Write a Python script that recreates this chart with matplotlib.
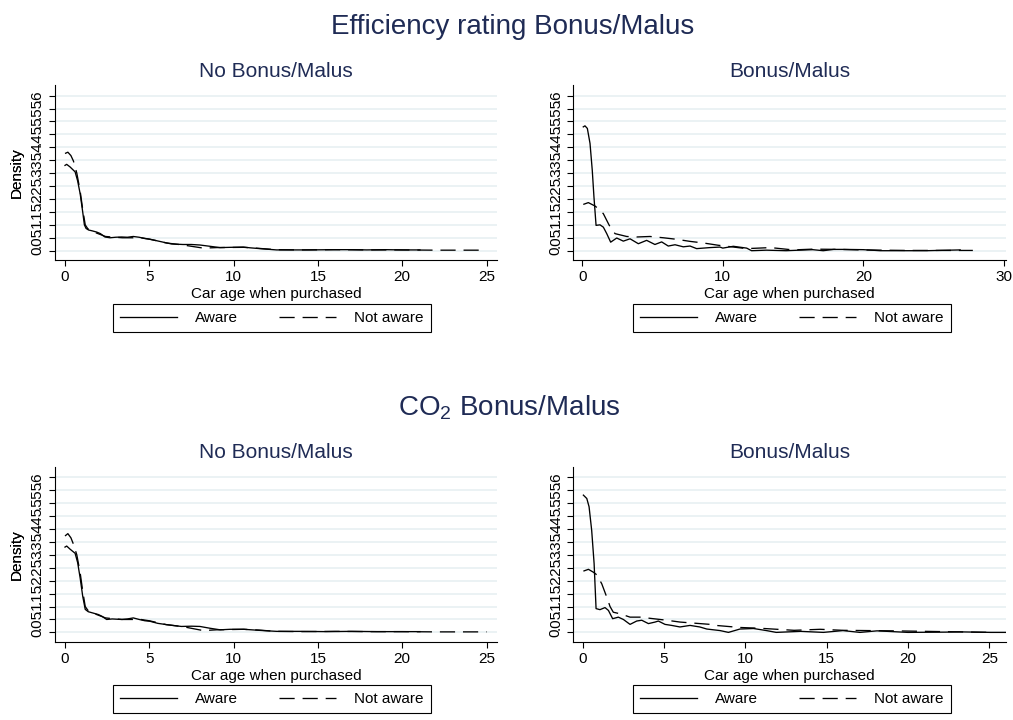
import matplotlib
matplotlib.use("Agg")
import matplotlib.pyplot as plt

plt.rcParams['font.family'] = ['Liberation Sans', 'DejaVu Sans']
plt.rcParams['mathtext.default'] = 'regular'

# ---------------- data ----------------
row_titles = ["Efficiency rating Bonus/Malus", "CO$_2$ Bonus/Malus"]
col_titles = ["No Bonus/Malus", "Bonus/Malus"]
series_names = ["Aware", "Not aware"]
x_label = "Car age when purchased"
y_label = "Density"

y_ticks = [0, .05, .1, .15, .2, .25, .3, .35, .4, .45, .5, .55, .6]
y_tick_labels = ["0", ".05", ".1", ".15", ".2", ".25", ".3", ".35", ".4", ".45", ".5", ".55", ".6"]

tl_xticks = [0, 5, 10, 15, 20, 25]
tr_xticks = [0, 10, 20, 30]
bl_xticks = [0, 5, 10, 15, 20, 25]
br_xticks = [0, 5, 10, 15, 20, 25]

# Top-left: Efficiency rating, No Bonus/Malus
tl_aware_x = [0.0, 0.1, 0.3, 0.6, 0.75, 0.9, 1.05, 1.15, 1.25, 1.4, 1.6, 1.88, 2.1, 2.37, 2.67, 3.0,
              3.36, 3.7, 4.05, 4.4, 4.74, 5.04, 5.34, 6.03, 6.33, 7.0, 7.5, 8.0, 8.6, 9.19, 9.8,
              10.57, 11.0, 11.56, 12.55, 13.5, 14.5, 15.9, 17.0, 17.9, 19.0, 20.0, 21.05]
tl_aware_y = [0.330, 0.334, 0.324, 0.305, 0.27, 0.22, 0.15, 0.10, 0.086, 0.080, 0.077, 0.072, 0.066,
              0.053, 0.050, 0.052, 0.053, 0.052, 0.055, 0.052, 0.047, 0.044, 0.040, 0.030, 0.026,
              0.024, 0.024, 0.022, 0.017, 0.012, 0.013, 0.014, 0.011, 0.008, 0.003, 0.003, 0.003,
              0.004, 0.004, 0.003, 0.004, 0.003, 0.003]
tl_not_x = [0.0, 0.17, 0.35, 0.5, 0.7, 0.9, 1.05, 1.2, 1.35, 1.6, 2.0, 2.4, 3.0, 3.4, 4.05, 4.5, 5.0,
            6.0, 7.0, 8.2, 9.0, 10.6, 11.5, 12.5, 14.0, 16.0, 18.0, 20.0, 22.0, 25.0]
tl_not_y = [0.376, 0.381, 0.368, 0.347, 0.30, 0.23, 0.16, 0.10, 0.085, 0.075, 0.065, 0.055, 0.052,
            0.050, 0.050, 0.050, 0.045, 0.030, 0.022, 0.010, 0.012, 0.013, 0.009, 0.004, 0.003,
            0.004, 0.003, 0.003, 0.002, 0.002]

# Top-right: Efficiency rating, Bonus/Malus
tr_aware_x = [0.07, 0.19, 0.36, 0.55, 0.71, 0.83, 0.98, 1.26, 1.5, 1.74, 2.02, 2.45, 2.92, 3.4, 3.99,
              4.58, 5.17, 5.65, 6.12, 6.6, 7.19, 7.67, 8.14, 9.09, 9.8, 10.0, 10.75, 11.7, 12.05,
              13.1, 14.5, 16.4, 17.15, 17.9, 18.6, 20.0, 21.2, 24.5, 26.9]
tr_aware_y = [0.479, 0.483, 0.473, 0.415, 0.311, 0.208, 0.098, 0.100, 0.091, 0.066, 0.033, 0.049,
              0.037, 0.046, 0.027, 0.040, 0.024, 0.034, 0.018, 0.023, 0.015, 0.018, 0.008, 0.012,
              0.014, 0.010, 0.017, 0.010, 0.000, 0.002, 0.000, 0.004, 0.000, 0.005, 0.005, 0.004,
              0.000, 0.000, 0.003]
tr_not_x = [0.07, 0.43, 0.9, 1.2, 1.5, 1.92, 2.33, 3.16, 3.87, 4.82, 5.77, 6.72, 7.67, 8.6, 9.68,
            11.7, 13.4, 15.0, 16.4, 18.3, 19.8, 23.0, 27.8]
tr_not_y = [0.179, 0.186, 0.173, 0.160, 0.143, 0.098, 0.066, 0.055, 0.053, 0.055, 0.050, 0.044,
            0.036, 0.030, 0.021, 0.008, 0.012, 0.003, 0.006, 0.005, 0.003, 0.001, 0.001]

# Bottom-left: CO2, No Bonus/Malus
bl_aware_x = [0.0, 0.1, 0.3, 0.6, 0.75, 0.9, 1.05, 1.2, 1.38, 1.6, 1.98, 2.2, 2.47, 2.8, 3.36, 3.7,
              4.05, 4.4, 4.74, 5.04, 5.5, 6.03, 6.9, 7.5, 8.0, 8.6, 9.2, 9.8, 10.6, 11.5, 12.55,
              14.0, 15.5, 17.0, 18.5, 20.0, 21.05]
bl_aware_y = [0.330, 0.334, 0.322, 0.306, 0.27, 0.21, 0.14, 0.089, 0.080, 0.076, 0.069, 0.062,
              0.050, 0.052, 0.050, 0.052, 0.056, 0.050, 0.045, 0.043, 0.035, 0.030, 0.023, 0.024,
              0.023, 0.016, 0.010, 0.012, 0.012, 0.008, 0.004, 0.004, 0.003, 0.004, 0.003, 0.003,
              0.003]
bl_not_x = [0.0, 0.17, 0.35, 0.49, 0.7, 0.9, 1.05, 1.2, 1.35, 1.6, 2.0, 2.4, 3.0, 3.4, 4.05, 4.5,
            5.0, 6.0, 7.0, 8.2, 9.0, 10.6, 11.5, 12.5, 14.0, 16.0, 18.0, 20.0, 22.0, 25.0]
bl_not_y = [0.373, 0.382, 0.366, 0.343, 0.30, 0.23, 0.16, 0.10, 0.086, 0.076, 0.066, 0.056, 0.052,
            0.050, 0.050, 0.050, 0.045, 0.030, 0.022, 0.007, 0.010, 0.012, 0.009, 0.004, 0.003,
            0.004, 0.003, 0.003, 0.002, 0.002]

# Bottom-right: CO2, Bonus/Malus
br_aware_x = [0.04, 0.25, 0.39, 0.55, 0.7, 0.82, 1.06, 1.37, 1.58, 1.84, 2.19, 2.5, 2.91, 3.32,
              3.63, 4.04, 4.45, 4.65, 5.06, 5.47, 5.98, 6.6, 7.2, 7.63, 8.45, 8.96, 9.67, 10.5,
              11.3, 11.9, 13.4, 14.8, 16.0, 17.05, 18.1, 20.0, 22.3, 23.2, 25.1, 26.0]
br_aware_y = [0.531, 0.518, 0.486, 0.395, 0.266, 0.092, 0.088, 0.096, 0.085, 0.053, 0.059, 0.050,
              0.031, 0.044, 0.047, 0.034, 0.040, 0.044, 0.031, 0.027, 0.021, 0.027, 0.021, 0.013,
              0.007, 0.000, 0.013, 0.015, 0.007, 0.000, 0.004, 0.000, 0.007, 0.000, 0.006, 0.000,
              0.001, 0.002, 0.000, 0.000]
br_not_x = [0.04, 0.35, 0.65, 0.86, 1.17, 1.48, 1.68, 1.88, 2.3, 2.91, 3.52, 4.34, 5.17, 5.98, 6.8,
            7.84, 8.0, 9.67, 10.9, 13.0, 14.6, 16.0, 19.1, 25.1]
br_not_y = [0.237, 0.244, 0.233, 0.223, 0.188, 0.136, 0.100, 0.078, 0.072, 0.059, 0.059, 0.053,
            0.047, 0.040, 0.036, 0.031, 0.028, 0.019, 0.016, 0.008, 0.012, 0.008, 0.006, 0.000]

# ---------------- layout ----------------
W, H = 1013, 720
navy = '#1f2b55'
grid_col = '#e6eff1'


def px_axes(left, top, right, bottom):
    return [left / W, 1 - bottom / H, (right - left) / W, (bottom - top) / H]


fig = plt.figure(figsize=(W / 100, H / 100), dpi=100)

panels = [
    (px_axes(55, 85, 497, 260), (-0.593, 25.62), tl_xticks, tl_aware_x, tl_aware_y, tl_not_x, tl_not_y, col_titles[0], 272, 318),
    (px_axes(573.3, 85, 1006, 260), (-0.64, 30.16), tr_xticks, tr_aware_x, tr_aware_y, tr_not_x, tr_not_y, col_titles[1], 792, 318),
    (px_axes(55, 466.7, 497, 641.7), (-0.593, 25.62), bl_xticks, bl_aware_x, bl_aware_y, bl_not_x, bl_not_y, col_titles[0], 272, 699),
    (px_axes(573.3, 466.7, 1006, 641.7), (-0.58, 26.03), br_xticks, br_aware_x, br_aware_y, br_not_x, br_not_y, col_titles[1], 792, 699),
]

for rect, xlim, xticks, ax_x, ax_y, nx, ny, sub, leg_cx, leg_cy in panels:
    ax = fig.add_axes(rect)
    ax.set_xlim(*xlim)
    ax.set_ylim(-0.036, 0.641)
    ax.set_yticks(y_ticks)
    ax.set_yticklabels(y_tick_labels)
    ax.set_xticks(xticks)
    ax.grid(axis='y', color=grid_col, linewidth=1.1, zorder=0)
    ax.set_axisbelow(True)
    for s in ['top', 'right']:
        ax.spines[s].set_visible(False)
    for s in ['left', 'bottom']:
        ax.spines[s].set_linewidth(0.8)
        ax.spines[s].set_color('black')
    ax.tick_params(axis='both', direction='out', length=4, width=0.8, labelsize=11, colors='black')
    ax.tick_params(axis='y', labelrotation=90, pad=4)
    for lab in ax.get_yticklabels():
        lab.set_va('center')
    l1, = ax.plot(ax_x, ax_y, color='black', linewidth=0.95, solid_joinstyle='round')
    l2, = ax.plot(nx, ny, color='black', linewidth=0.95, linestyle=(0, (11.5, 6)))
    ax.set_xlabel(x_label, fontsize=11, labelpad=2)
    ax.set_ylabel(y_label, fontsize=11)
    ax.yaxis.set_label_coords((24 - rect[0] * W) / (rect[2] * W), 0.5)
    ax.set_title(sub, fontsize=15, color=navy, pad=6)
    leg = ax.legend([l1, l2], series_names, loc='center', ncol=2,
                    bbox_to_anchor=(leg_cx / W, 1 - leg_cy / H), bbox_transform=fig.transFigure,
                    fontsize=11, handlelength=3.7, handletextpad=1.2, columnspacing=2.7,
                    borderpad=0.45, fancybox=False, framealpha=1, edgecolor='black')
    leg.get_frame().set_linewidth(0.8)

fig.text(513 / W, 1 - 27 / H, row_titles[0], ha='center', va='center', fontsize=20, color=navy)
fig.text(509 / W, 1 - 408 / H, row_titles[1], ha='center', va='center', fontsize=20, color=navy)

fig.savefig('out.png', dpi=100, facecolor='white')
